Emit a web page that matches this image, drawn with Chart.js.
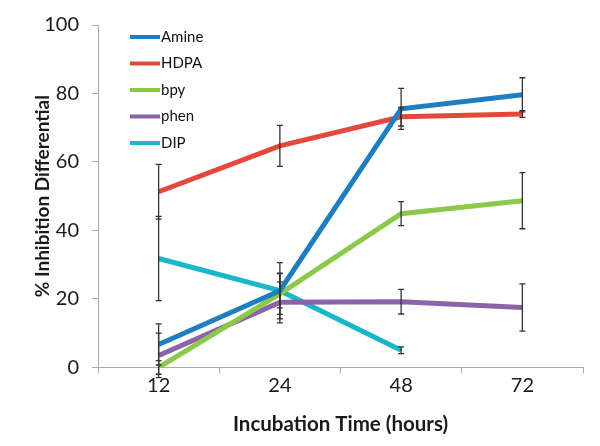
<!DOCTYPE html>
<html>
<head>
<meta charset="utf-8">
<script src="https://cdn.jsdelivr.net/npm/chart.js@4"></script>
<style>
  html, body { margin: 0; padding: 0; background: #fff; }
  #wrap { width: 600px; height: 446px; }
</style>
</head>
<body>
<div id="wrap"><canvas id="chart"></canvas></div>
<script>
// time points (hours)
const hours = ["12", "24", "48", "72"];

const amine = [6.7, 22.4, 75.5, 79.6];
const hdpa = [51.3, 64.7, 73.2, 74.0];
const bpy = [0, 21.5, 44.9, 48.7];
const phen = [3.5, 19.0, 19.2, 17.5];
const dip = [31.8, 22.4, 5.0];

// +/- error
const amineErr = [6, 8.2, 6, 5];
const hdpaErr = [8, 6, 2.7, 1];
const bpyErr = [2, 6, 3.5, 8.2];
const phenErr = [6.5, 6, 3.6, 6.9];
const dipErr = [12.3, 5, 1];

const yTicks = [0, 20, 40, 60, 80, 100];

const errors = [amineErr, hdpaErr, bpyErr, phenErr, dipErr];

const errorBars = {
    id: "errorBars",
    afterDatasetsDraw(chart) {
        const ctx = chart.ctx;
        const y = chart.scales.y;
        ctx.save();
        ctx.strokeStyle = "#333";
        ctx.lineWidth = 1.3;
        chart.data.datasets.forEach((ds, i) => {
            const meta = chart.getDatasetMeta(i);
            meta.data.forEach((pt, j) => {
                const e = errors[i][j];
                if (e == null) return;
                const v = ds.data[j];
                const top = y.getPixelForValue(v + e);
                const bot = y.getPixelForValue(v - e);
                ctx.beginPath();
                ctx.moveTo(pt.x, top); ctx.lineTo(pt.x, bot);
                ctx.moveTo(pt.x - 3, top); ctx.lineTo(pt.x + 3, top);
                ctx.moveTo(pt.x - 3, bot); ctx.lineTo(pt.x + 3, bot);
                ctx.stroke();
            });
        });
        ctx.restore();
    }
};

// legend drawn inside the plot, top left
const insideLegend = {
    id: "insideLegend",
    afterDraw(chart) {
        const ctx = chart.ctx;
        const left = chart.chartArea.left + 32;
        let top = chart.chartArea.top + 12;
        ctx.save();
        ctx.font = "15px Lato";
        ctx.textBaseline = "middle";
        chart.data.datasets.forEach(ds => {
            ctx.strokeStyle = ds.borderColor;
            ctx.lineWidth = 4;
            ctx.beginPath();
            ctx.moveTo(left, top);
            ctx.lineTo(left + 30, top);
            ctx.stroke();
            ctx.fillStyle = "#111";
            ctx.fillText(ds.label, left + 31, top);
            top += 26.5;
        });
        ctx.restore();
    }
};

function line(label, data, color) {
    return {
        label: label,
        data: data,
        borderColor: color,
        backgroundColor: color,
        borderWidth: 5,
        pointRadius: 0,
        tension: 0,
        fill: false
    };
}

new Chart("chart", {
    type: "line",
    data: {
        labels: hours,
        datasets: [
            line("Amine", amine, "#1f7ec0"),
            line("HDPA", hdpa, "#e2493b"),
            line("bpy", bpy, "#8cc84a"),
            line("phen", phen, "#8a63a8"),
            line("DIP", dip, "#1ab6cb")
        ]
    },
    options: {
        responsive: true,
        maintainAspectRatio: false,
        animation: false,
        layout: { padding: { top: 19, right: 17, left: 27, bottom: 5 } },
        plugins: {
            legend: { display: false },
            tooltip: { enabled: false }
        },
        scales: {
            x: {
                type: "category",
                offset: true,
                grid: { display: true, drawOnChartArea: false, offset: true, tickLength: 6, color: "#aaa" },
                border: { color: "#aaa" },
                ticks: { font: { family: "Lato", size: 20 }, color: "#1a1a1a", padding: 0 },
                title: { display: true, text: "Incubation Time (hours)", font: { family: "Lato", size: 20.5, weight: "bold" }, color: "#1a1a1a", padding: { top: 15 } }
            },
            y: {
                min: 0,
                max: 100,
                afterBuildTicks(axis) { axis.ticks = yTicks.map(v => ({ value: v })); },
                afterFit(axis) { axis.width = 71; },
                grid: { display: true, drawOnChartArea: false, tickLength: 6, color: "#aaa" },
                border: { color: "#aaa" },
                ticks: { font: { family: "Lato", size: 20 }, color: "#1a1a1a", padding: 13 },
                title: { display: true, text: "% Inhibition Differential", font: { family: "Lato", size: 19, weight: "bold" }, color: "#1a1a1a", padding: { bottom: 2 } }
            }
        }
    },
    plugins: [errorBars, insideLegend]
});
</script>
</body>
</html>
